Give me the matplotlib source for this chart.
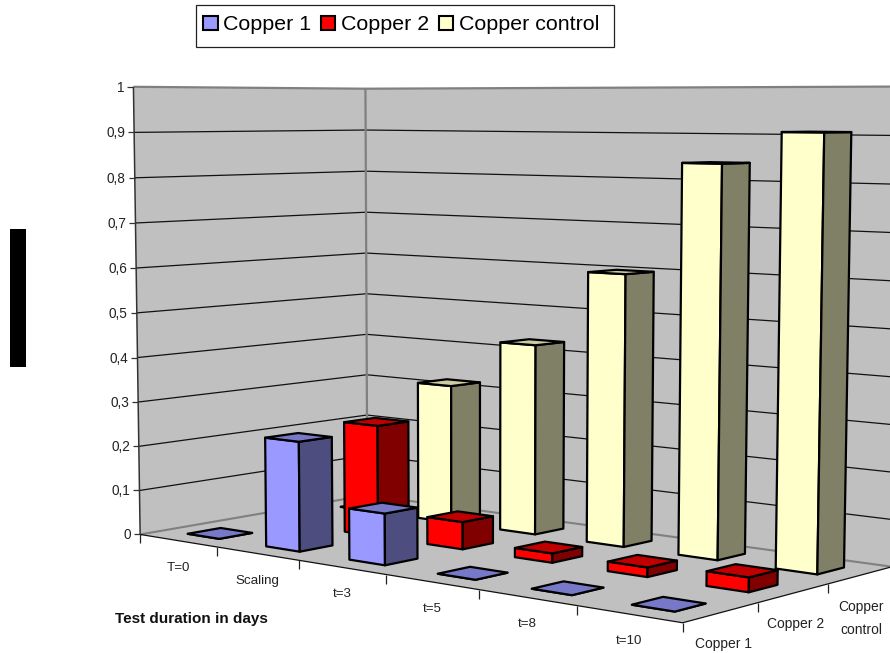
import numpy as np
import matplotlib
matplotlib.use("Agg")
import matplotlib.pyplot as plt
from matplotlib.patches import Polygon, Patch, Rectangle

plt.rcParams['font.family'] = ['Liberation Sans', 'DejaVu Sans']

categories = ["T=0", "Scaling", "t=3", "t=5", "t=8", "t=10"]
series_names = ["Copper 1", "Copper 2", "Copper control"]
copper_1 = [0, 0.24, 0.11, 0, 0, 0]
copper_2 = [0, 0.25, 0.06, 0.02, 0.02, 0.03]
copper_control = [0, 0.318, 0.428, 0.598, 0.84, 0.907]
series_values = [copper_1, copper_2, copper_control]
value_ticks = [0, 0.1, 0.2, 0.3, 0.4, 0.5, 0.6, 0.7, 0.8, 0.9, 1]
value_labels = ["0", "0,1", "0,2", "0,3", "0,4", "0,5", "0,6", "0,7", "0,8", "0,9", "1"]

front = ["#9999FF", "#FF0000", "#FFFFCC"]
side = ["#4D4D80", "#800000", "#808066"]
top = ["#7878C8", "#C00000", "#CCCCA3"]
WALL = "#C0C0C0"

# Camera: (category pos, series pos, value) -> pixel, solved from the box corners
n_c, n_s = len(categories), len(series_names)
cam_world = [(0, 0, 0), (0, 0, 1), (0, n_s, 0), (0, n_s, 1), (n_c, n_s, 0), (n_c, n_s, 1), (n_c, 0, 0),
             (1, 0, 0), (2, 0, 0), (3, 0, 0), (4, 0, 0), (5, 0, 0), (n_c, 1, 0), (n_c, 2, 0)]
cam_pix = [(140, 534), (133, 87), (367, 495), (366, 89), (892, 567), (901, 86), (682, 622),
           (217, 547), (300, 560), (386, 575), (480, 590), (578, 606), (757, 603), (828, 584)]
A = []
for (X, Y, Z), (px, py) in zip(cam_world, cam_pix):
    A.append([X, Y, Z, 1, 0, 0, 0, 0, -px * X, -px * Y, -px * Z, -px])
    A.append([0, 0, 0, 0, X, Y, Z, 1, -py * X, -py * Y, -py * Z, -py])
M = np.linalg.svd(np.array(A, float))[2][-1].reshape(3, 4)


def P(u, v, w):
    h = M @ np.array([u, v, w, 1.0])
    return h[0] / h[2], h[1] / h[2]


fig = plt.figure(figsize=(8.9, 6.53), dpi=100)
ax = fig.add_axes([0, 0, 1, 1])
ax.set_xlim(0, 890)
ax.set_ylim(653, 0)
ax.axis("off")

# walls and floor
ax.add_patch(Polygon([P(0, 0, 0), P(0, n_s, 0), P(0, n_s, 1), P(0, 0, 1)], fc=WALL, ec="none", zorder=1))
ax.add_patch(Polygon([P(0, n_s, 0), P(n_c, n_s, 0), P(n_c, n_s, 1), P(0, n_s, 1)], fc=WALL, ec="none", zorder=1))
ax.add_patch(Polygon([P(0, 0, 0), P(n_c, 0, 0), P(n_c, n_s, 0), P(0, n_s, 0)], fc=WALL, ec="none", zorder=1))


def seg(pts, **kw):
    xs, ys = zip(*pts)
    ax.plot(xs, ys, solid_capstyle="butt", **kw)


# gridlines
for w in value_ticks[1:-1]:
    seg([P(0, 0, w), P(0, n_s, w), P(n_c, n_s, w)], color="#111111", lw=0.9, zorder=2)
seg([P(0, 0, 0), P(0, n_s, 0), P(n_c, n_s, 0)], color="#808080", lw=1.5, zorder=2)
seg([P(0, 0, 1), P(0, n_s, 1), P(n_c, n_s, 1)], color="#808080", lw=1.6, zorder=2)
seg([P(0, n_s, 0), P(0, n_s, 1)], color="#808080", lw=1.6, zorder=2)
seg([P(0, 0, 0), P(0, 0, 1)], color="#333333", lw=1.1, zorder=3)
seg([P(0, 0, 0), P(n_c, 0, 0), P(n_c, n_s, 0)], color="#111111", lw=0.9, zorder=3)

# value axis
for w, lab in zip(value_ticks, value_labels):
    x, y = P(0, 0, w)
    seg([(x - 6, y), (x, y)], color="#333333", lw=0.9, zorder=3)
    ax.text(x - 9, y + 1, lab, ha="right", va="center", fontsize=9.8, color="#222222")

# category and series ticks
for i in range(n_c + 1):
    x, y = P(i, 0, 0)
    seg([(x, y), (x, y + 9)], color="#222222", lw=0.9, zorder=3)
for j in range(1, n_s):
    x, y = P(n_c, j, 0)
    seg([(x, y), (x, y + 9)], color="#222222", lw=0.9, zorder=3)

for i, lab in enumerate(categories):
    x, y = P(i + 0.5, 0, 0)
    ax.text(x, y + 27, lab, ha="center", va="center", fontsize=9.6, color="#222222")

series_offset = [(2, 31), (2, 31), (1, 43)]
series_tick_labels = ["Copper 1", "Copper 2", "Copper\ncontrol"]
for j, lab in enumerate(series_tick_labels):
    x, y = P(n_c, j + 0.5, 0)
    ax.text(x + series_offset[j][0], y + series_offset[j][1], lab, ha="center", va="center",
            fontsize=10, color="#222222", linespacing=1.8)

ax.text(191, 619, "Test duration in days", ha="center", va="center", fontsize=11, fontweight="bold", color="#111111")

# bars, back to front
U0, U1, V0, V1 = 0.3, 0.71, 0.3, 0.71
z = 10
for j in reversed(range(n_s)):
    for i in range(n_c):
        h = series_values[j][i]
        u0, u1, v0, v1 = i + U0, i + U1, j + V0, j + V1
        faces = [
            ([P(u0, v0, 0), P(u1, v0, 0), P(u1, v0, h), P(u0, v0, h)], front[j]),
            ([P(u1, v0, 0), P(u1, v1, 0), P(u1, v1, h), P(u1, v0, h)], side[j]),
            ([P(u0, v0, h), P(u1, v0, h), P(u1, v1, h), P(u0, v1, h)], top[j]),
        ]
        for pts, col in faces:
            ax.add_patch(Polygon(pts, fc=col, ec="black", lw=1.6, joinstyle="round", zorder=z))
        z += 1

# redacted block at left
ax.add_patch(Rectangle((10, 229), 16, 138, fc="black", ec="none", zorder=50))

# legend with its own frame
ax.add_patch(Rectangle((196, 5), 418, 42, fc="white", ec="#222222", lw=0.9, zorder=59))
handles = [Patch(fc=front[k], ec="black", lw=1.5) for k in range(n_s)]
leg = ax.legend(handles, series_names, loc="center left", bbox_to_anchor=(203 / 890, 1 - 25 / 653), ncol=3,
                fontsize=15.4, frameon=False,
                handlelength=0.68, handleheight=0.6, handletextpad=0.27, columnspacing=0.44,
                borderpad=0, borderaxespad=0)
leg.set_zorder(60)

fig.savefig("out.png", dpi=100)
